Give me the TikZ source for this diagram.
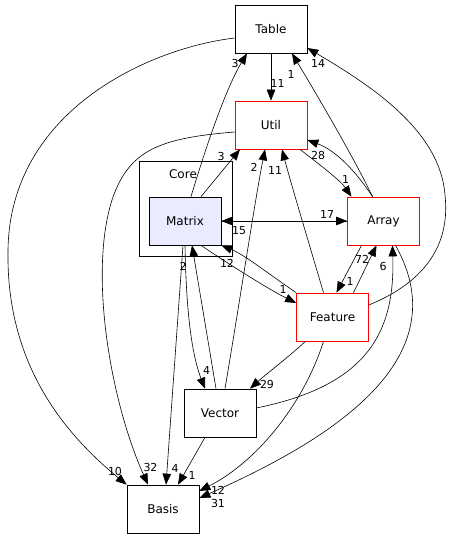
\documentclass[tikz,border=0pt]{standalone}
\usepackage{fontspec}
\setmainfont{DejaVu Sans}
\usetikzlibrary{arrows.meta}
\begin{document}
\begin{tikzpicture}[x=1pt, y=-1pt, >={Triangle[length=11pt,width=8.5pt]},
  every node/.style={rectangle, draw, line width=0.7pt, minimum width=72pt, minimum height=48pt,
    inner sep=0pt, font=\fontsize{12}{14}\selectfont}]
\useasboundingbox (0,0) rectangle (455,549);
\tikzset{dirred/.style={draw=red}}
\node (Core) at (185.5,208.5) [minimum width=93pt, minimum height=95pt] {};
\node (Table) at (271,29) {Table};
\node[dirred] (Util) at (271,125) {Util};
\node[fill={rgb,255:red,235;green,235;blue,255}] (Matrix) at (185,221) {Matrix};
\node[dirred] (Array) at (383.5,221) {Array};
\node[dirred] (Feature) at (332.5,317) {Feature};
\node (Vector) at (220,413) {Vector};
\node (Basis) at (163,509) {Basis};
\node[draw=none, minimum width=0pt, minimum height=0pt] (CoreName) at (183,174) {Core};

\tikzset{every node/.style={inner sep=0pt, font=\fontsize{11}{13}\selectfont}}
\tikzset{dep/.style={->, line width=0.6pt}}
% straight ones
\path (Table.south) edge [dep] (Util.north);
\path ([xshift=16pt]Matrix.north) edge [dep] ([xshift=-31pt]Util.south);
\path (Matrix.east) edge [dep] (Array.west);
\path (Array.west) edge [dep] (Matrix.east);
\path ([xshift=-4pt]Vector.north) edge [dep] ([xshift=7pt]Matrix.south);
\path ([xshift=-22pt]Array.south) edge [dep] ([xshift=4pt]Feature.north);
\path ([xshift=21pt]Feature.north) edge [dep] ([xshift=-7pt]Array.south);
\path ([xshift=-2pt]Matrix.south) edge [dep] ([xshift=3pt]Basis.north);
\path ([xshift=-15pt]Vector.south) edge [dep] ([xshift=15pt]Basis.north);
% curved ones
\draw[dep] ([yshift=-9pt]Table.west) .. controls (150,48) and (10,110) .. (8,250)
  .. controls (6,360) and (60,430) .. (Basis.north west);
\draw[dep] ([xshift=6pt]Matrix.north) .. controls (205,150) and (225,90) .. ([xshift=-24pt]Table.south);
\draw[dep] ([xshift=16pt]Matrix.south) .. controls (230,265) and (270,290) .. ([yshift=14pt]Feature.west);
\draw[dep] (Feature.north west) .. controls (270,275) and (245,255) .. (Matrix.south east);
\draw[dep] (Matrix.south) .. controls (186,300) and (190,350) .. ([xshift=-15pt]Vector.north);
\draw[dep] ([xshift=5pt]Vector.north) .. controls (240,300) and (255,200) .. ([xshift=-6pt]Util.south);
\draw[dep] ([xshift=-9pt]Feature.north) .. controls (305,230) and (290,180) .. ([xshift=11pt]Util.south);
\draw[dep] ([xshift=-11pt]Array.north) .. controls (355,170) and (335,150) .. ([yshift=-15pt]Util.east);
\draw[dep] ([xshift=29pt]Util.south) .. controls (320,165) and (340,180) .. ([xshift=-32pt]Array.north);
\draw[dep] ([xshift=-11pt]Array.north) .. controls (355,160) and (320,100) .. ([xshift=21pt]Table.south);
\draw[dep] ([yshift=12pt]Feature.east) .. controls (430,280) and (450,240) .. (445,195)
  .. controls (440,130) and (370,85) .. ([yshift=-19pt]Table.east);
\draw[dep] ([yshift=5pt]Vector.east) .. controls (370,385) and (395,330) .. ([xshift=9pt]Array.south);
\draw[dep] ([xshift=12pt]Array.south) .. controls (460,360) and (330,440) .. ([yshift=11pt]Basis.east);
\draw[dep] ([xshift=-9pt]Feature.south) .. controls (305,400) and (260,460) .. ([yshift=18pt]Basis.east);
\draw[dep] ([xshift=-27pt]Feature.south) .. controls (285,360) and (265,375) .. ([xshift=30pt]Vector.north);
\draw[dep] ([yshift=-7pt]Util.west) .. controls (160,138) and (130,150) .. (113,197)
  .. controls (88,270) and (110,400) .. ([xshift=-15pt]Basis.north);

% counts
\node (nTU) at (277.5,83) {11};
\node (nTB) at (115,471) {10};
\node (nMT) at (235,63) {3};
\node (nMU) at (221,156) {3};
\node (nMA) at (327,214) {17};
\node (nAM) at (239,231) {15};
\node (nMF) at (283,289) {1};
\node (nFM) at (227,263) {12};
\node (nMV) at (206.5,370.5) {4};
\node (nVM) at (183,266) {2};
\node (nVU) at (254,167) {2};
\node (nFU) at (275,170) {11};
\node (nAU) at (318,155) {28};
\node (nUA) at (345.5,179.5) {1};
\node (nAT) at (291,74) {1};
\node (nFT) at (318,63) {14};
\node (nAF) at (350,281) {1};
\node (nFA) at (362,259) {72};
\node (nVA) at (383,266) {6};
\node (nAB) at (218,503) {31};
\node (nFB) at (218,490) {12};
\node (nFV) at (267,384) {29};
\node (nUB) at (150.5,467) {32};
\node (nMB) at (175,468) {4};
\node (nVB) at (192,475) {1};
\end{tikzpicture}
\end{document}
